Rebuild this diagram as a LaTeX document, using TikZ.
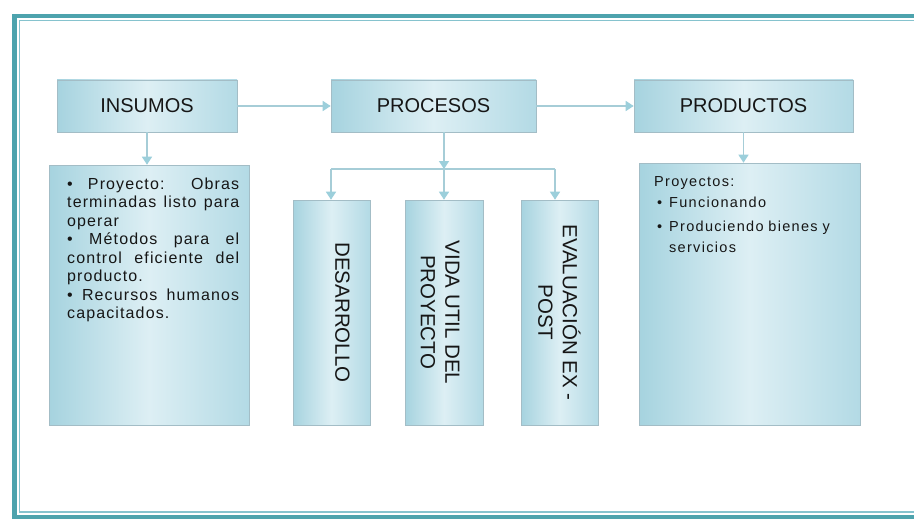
\documentclass[tikz,border=0pt]{standalone}
\usepackage{fontspec}
\setmainfont{Liberation Sans}
\newfontfamily\bodyfont[LetterSpace=7]{Liberation Sans}
\newfontfamily\bodyfontb[LetterSpace=9]{Liberation Sans}
\usetikzlibrary{arrows.meta}
\setlength\parindent{0pt}
\definecolor{framedark}{HTML}{4DA3AD}
\definecolor{framelight}{HTML}{86C3CE}
\definecolor{boxdark}{HTML}{A6D3DF}
\definecolor{boxdarkb}{HTML}{B3DAE5}
\definecolor{boxlight}{HTML}{DDEFF4}
\definecolor{boxline}{HTML}{A3BDC6}
\definecolor{arrowc}{HTML}{A6CDD7}
\definecolor{tipc}{HTML}{9CCFDB}
\definecolor{txt}{HTML}{161616}
\begin{document}
\begin{tikzpicture}[x=1pt,y=-1pt,
  boxstyle/.style={draw=boxline, line width=0.6pt, left color=boxdark, right color=boxdarkb, middle color=boxlight, inner sep=0pt},
  titlebox/.style={boxstyle, minimum height=52pt, text=txt, font=\fontsize{20}{24}\selectfont},
  vtext/.style={rotate=-90, align=center, text=txt, inner sep=0pt, font=\fontsize{20.5}{24.5}\selectfont},
  conn/.style={draw=arrowc, line width=1.4pt},
  arr/.style={conn, -{Triangle[width=10pt,length=8pt,fill=tipc,color=tipc]}},
]
\useasboundingbox (0,0) rectangle (914,519);
\fill[white] (0,0) rectangle (914,519);
% frame
\draw[framedark, line width=4.5pt] (14.5,16) rectangle (935,517);
\draw[framelight, line width=1.5pt] (19.5,20.5) rectangle (930,512);

% title boxes
\node[titlebox, minimum width=180pt] (ins) at (147,106) {INSUMOS};
\node[titlebox, minimum width=205pt] (proc) at (433.5,106) {PROCESOS};
\node[titlebox, minimum width=219pt] (prod) at (743.5,106) {PRODUCTOS};

% content boxes
\node[boxstyle, minimum width=200pt, minimum height=260pt] (insbox) at (149,295) {};
\node[boxstyle, minimum width=77pt, minimum height=225pt] (des) at (331.5,312.5) {};
\node[boxstyle, minimum width=78pt, minimum height=225pt] (vida) at (444,312.5) {};
\node[boxstyle, minimum width=77pt, minimum height=225pt] (eval) at (559.5,312.5) {};
\node[boxstyle, minimum width=221pt, minimum height=262pt] (prodbox) at (749.5,294) {};

% texts
\node[anchor=north west, inner sep=0pt, text width=172pt, align=justify, text=txt,
  font={\bodyfont\fontsize{16}{18.5}\selectfont}] (instxt) at (67,177.5)
  {\textbullet\ Proyecto: Obras\linebreak terminadas listo para\linebreak operar\par
   \textbullet\ Métodos para el\linebreak control eficiente del\linebreak producto.\par
   \textbullet\ Recursos humanos\linebreak capacitados.\par};

\node[anchor=north west, inner sep=0pt, text width=200pt, align=left, text=txt,
  font={\bodyfontb\fontsize{14.5}{21}\selectfont}] (prodtxt) at (654,176.5)
  {Proyectos:\par
   \hangindent=15pt\hangafter=1 \makebox[15pt][l]{\hspace{3pt}\textbullet}Funcionando\par
   \vspace{3pt}\hangindent=15pt\hangafter=1 \makebox[15pt][l]{\hspace{3pt}\textbullet}Produciendo bienes y\newline servicios\par};

\node[vtext] (destxt) at (342.5,312.5) {DESARROLLO};
\node[vtext] (vidatxt) at (440,312.5) {VIDA UTIL DEL\\PROYECTO};
\node[vtext] (evaltxt) at (559.5,312.5) {EVALUACIÓN EX -\\POST};

% connectors
\draw[arr] (ins) -- (proc);
\draw[arr] (proc) -- (prod);
\draw[arr] (ins.south) -- (ins.south |- insbox.north);
\draw[arr] (prod.south) -- (prod.south |- prodbox.north);

\coordinate (split) at (444,169);
\coordinate (splitL) at (331,169);
\coordinate (splitR) at (555,169);
\draw[arr] (split |- proc.south) -- (split);
\draw[conn] (splitL) -- (splitR);
\draw[arr] (splitL) -- (splitL |- des.north);
\draw[arr] (split) -- (vida.north);
\draw[arr] (splitR) -- (splitR |- eval.north);
\end{tikzpicture}
\end{document}
